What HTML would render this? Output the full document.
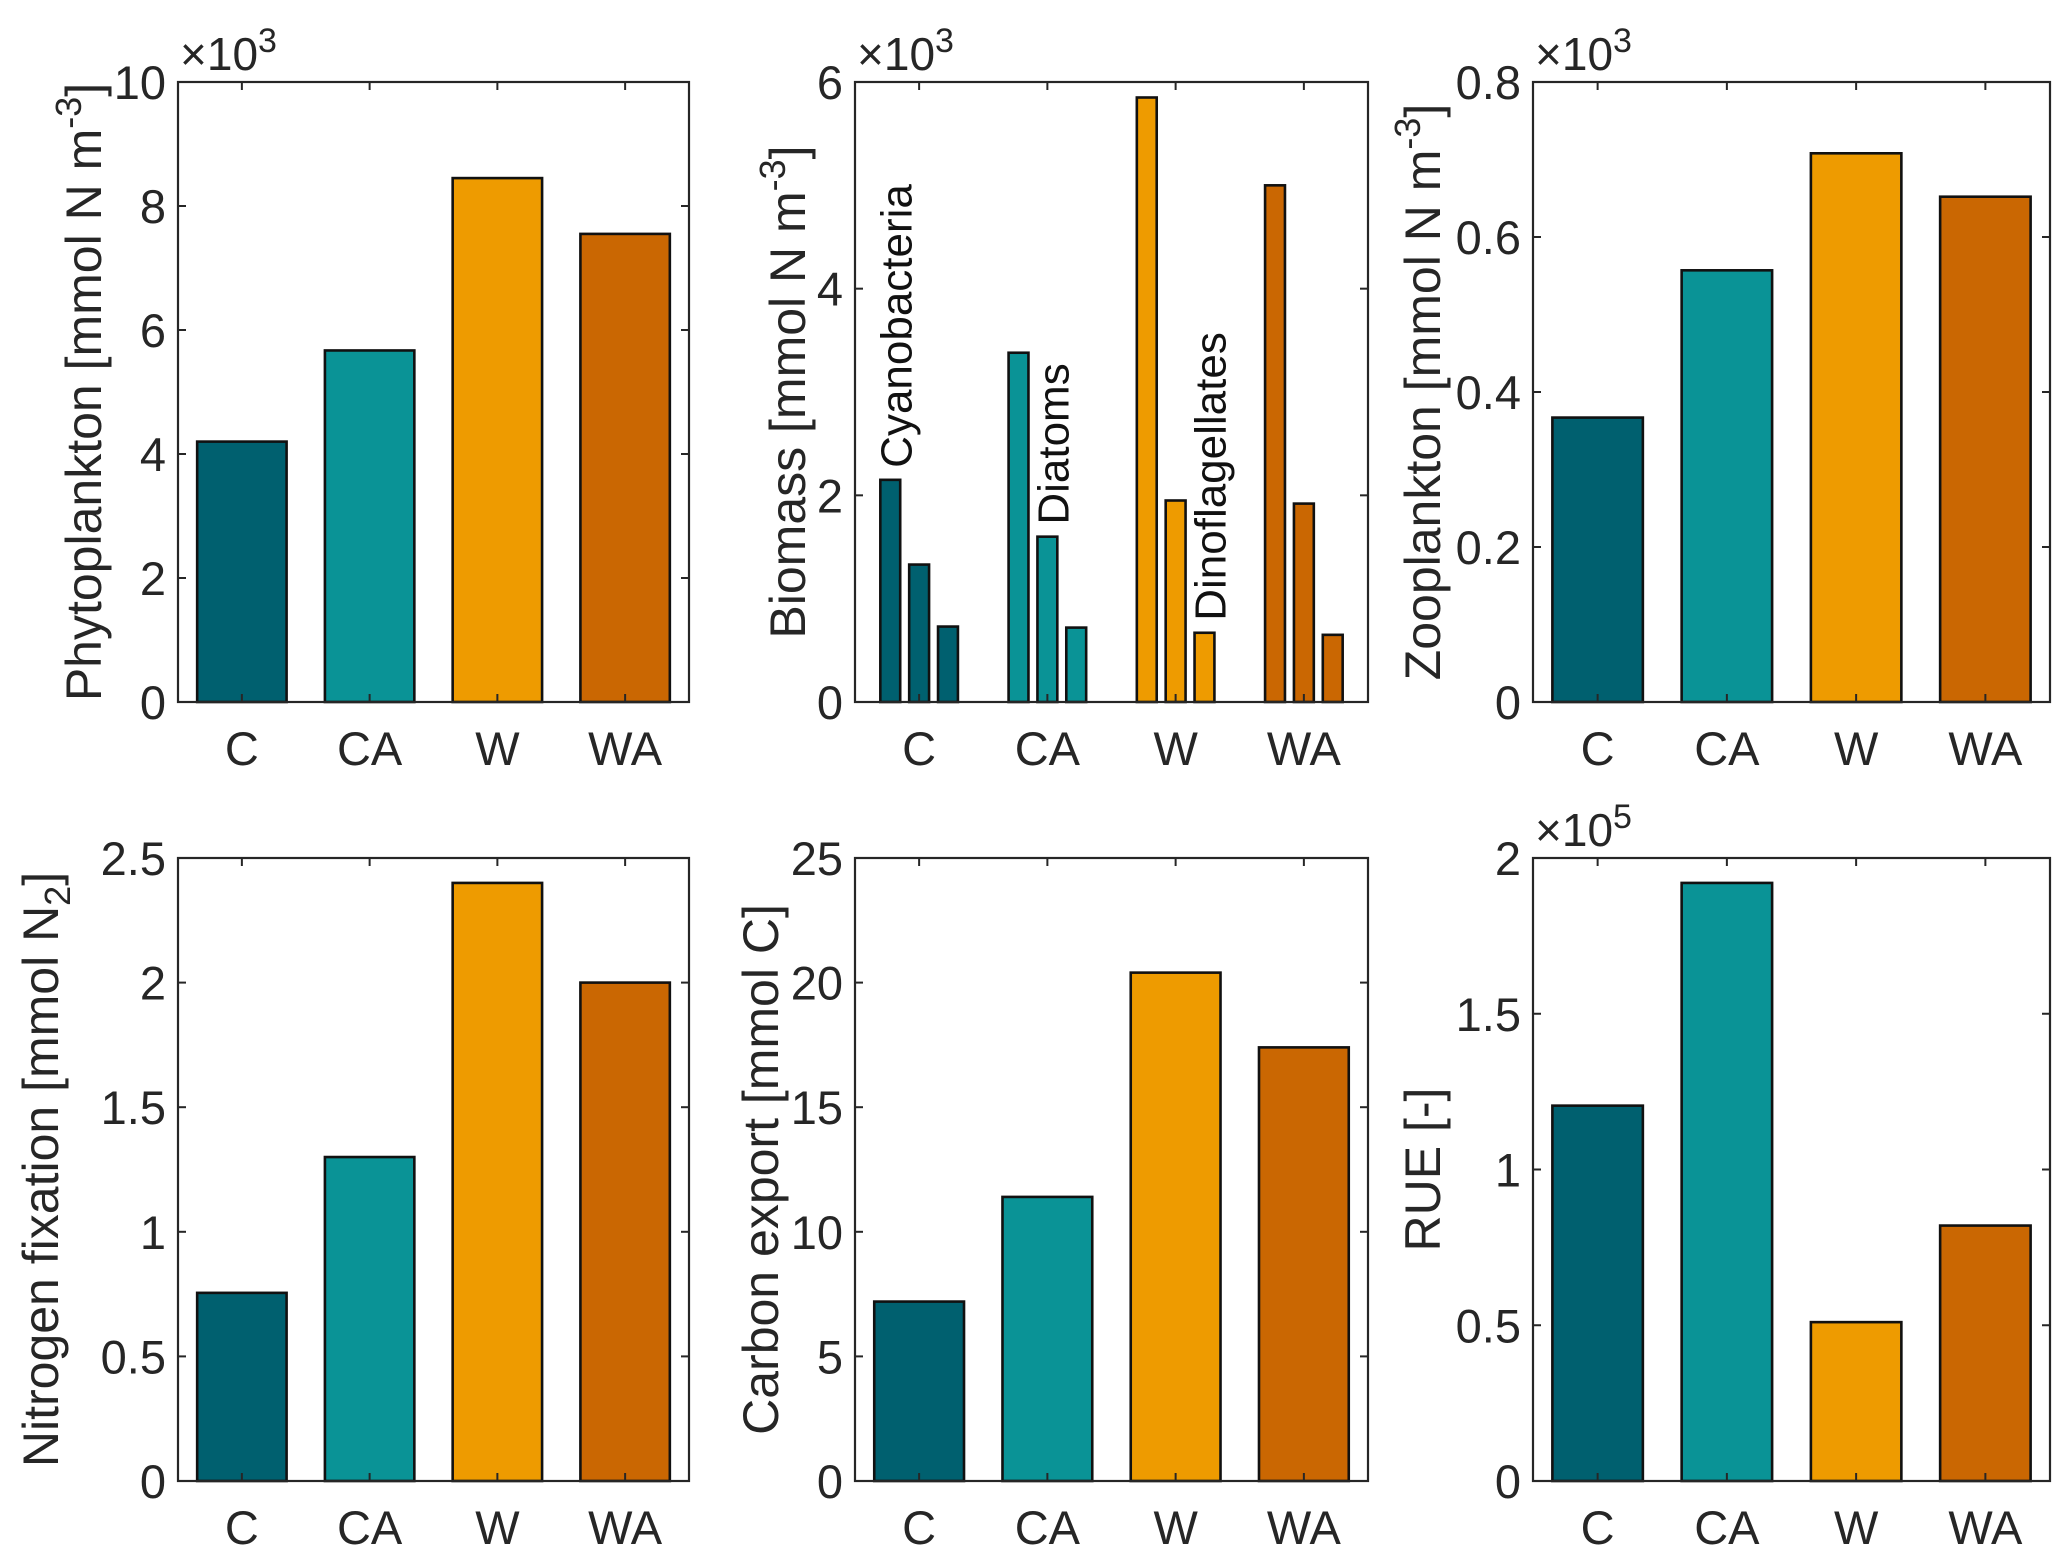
<!DOCTYPE html>
<html><head><meta charset="utf-8"><style>
body{margin:0;background:#fff}
svg{display:block;font-family:"Liberation Sans",Arial,sans-serif}
</style></head><body>
<svg id="fig" width="2067" height="1558" viewBox="0 0 2067 1558" xmlns="http://www.w3.org/2000/svg"></svg>
<script>
const categories = ["C","CA","W","WA"];
const colors = ["#00606f","#0a9396","#ee9b00","#ca6702"];
const phytoValues = [4.2, 5.67, 8.45, 7.55];
const phytoTicks = [0,2,4,6,8,10];
const cyanoValues = [2.15, 3.38, 5.85, 5.0];
const diatomValues = [1.33, 1.6, 1.95, 1.92];
const dinoValues = [0.73, 0.72, 0.67, 0.65];
const biomassTicks = [0,2,4,6];
const zooValues = [0.367, 0.557, 0.708, 0.652];
const zooTicks = [0,0.2,0.4,0.6,0.8];
const nfixValues = [0.755, 1.30, 2.40, 2.00];
const nfixTicks = [0,0.5,1,1.5,2,2.5];
const carbonValues = [7.2, 11.4, 20.4, 17.4];
const carbonTicks = [0,5,10,15,20,25];
const rueValues = [1.205, 1.92, 0.51, 0.82];
const rueTicks = [0,0.5,1,1.5,2];

const NS="http://www.w3.org/2000/svg";
const svg=document.getElementById('fig');
function mk(tag,attrs,parent){const e=document.createElementNS(NS,tag);for(const k in attrs)e.setAttribute(k,attrs[k]);(parent||svg).appendChild(e);return e;}

function panel(name,box,ticks,series,ylabelParts,ylabelX,expo,annots){
  const g=mk('g',{});
  
  
  const [L,R,T,B]=box;
  const ymax=ticks[ticks.length-1];
  const y=v=>B-(v/ymax)*(B-T);
  const x=i=>L+(i+0.5)/4*(R-L);
  const step=(R-L)/4;
  series.forEach((s,si)=>{
    s.values.forEach((v,i)=>{
      const cx=x(i)+s.offset*step;
      const w=s.width*step;
      const r=mk('rect',{x:cx-w/2,y:y(v),width:w,height:B-y(v),fill:colors[i],stroke:'#111',"stroke-width":2.6},g);
      
      
    });
  });
  const fr=mk('rect',{x:L,y:T,width:R-L,height:B-T,fill:'none',stroke:'#262626',"stroke-width":2.2},g);
  
  
  const tl=8;
  ticks.forEach(t=>{
    const yy=y(t);
    mk('line',{x1:L,y1:yy,x2:L+tl,y2:yy,stroke:'#262626',"stroke-width":2},g);
    mk('line',{x1:R,y1:yy,x2:R-tl,y2:yy,stroke:'#262626',"stroke-width":2},g);
    const tx=mk('text',{x:L-12,y:yy+17,"text-anchor":"end","font-size":47,fill:'#262626'},g);
    tx.textContent=String(t);
    
    
  });
  categories.forEach((c,i)=>{
    const xx=x(i);
    mk('line',{x1:xx,y1:B,x2:xx,y2:B-tl,stroke:'#262626',"stroke-width":2},g);
    mk('line',{x1:xx,y1:T,x2:xx,y2:T+tl,stroke:'#262626',"stroke-width":2},g);
    const tx=mk('text',{x:xx,y:B+63,"text-anchor":"middle","font-size":47,fill:'#262626'},g);
    tx.textContent=c;
    
    
  });
  if(expo){
    const ex=mk('text',{x:L+2,y:T-12,"font-size":46,fill:'#262626'},g);
    ex.innerHTML='×10<tspan dy="-18" font-size="34">'+expo+'</tspan>';
    
    
  }
  const cy=(T+B)/2;
  const yl=mk('text',{x:ylabelX,y:cy,"text-anchor":"middle","font-size":50,fill:'#262626',transform:`rotate(-90 ${ylabelX} ${cy})`},g);
  yl.innerHTML=ylabelParts;
  
  
  (annots||[]).forEach(a=>{
    const ax=L+(a.cat+0.5)/4*(R-L)+a.off*step+21;
    const ay=y(a.v)-12;
    const t=mk('text',{x:ax,y:ay,"font-size":44,fill:'#111',transform:`rotate(-90 ${ax} ${ay})`},g);
    t.textContent=a.text;
    
    
  });
}

const top1=82, bot1=702, top2=858, bot2=1481;
const single=v=>[{id:'total',values:v,offset:0,width:0.7}];
const sup='<tspan dy="-20" font-size="36">-3</tspan><tspan dy="20">]</tspan>';
panel('phytoplankton',[178,689,top1,bot1],phytoTicks,single(phytoValues),'Phytoplankton [mmol N m'+sup,101,'3');
panel('biomass',[855,1368,top1,bot1],biomassTicks,[
  {id:'cyanobacteria',values:cyanoValues,offset:-0.225,width:0.155},
  {id:'diatoms',values:diatomValues,offset:0,width:0.155},
  {id:'dinoflagellates',values:dinoValues,offset:0.225,width:0.155}],
  'Biomass [mmol N m'+sup,805,'3',
  [{cat:0,off:-0.225,v:cyanoValues[0],text:'Cyanobacteria'},
   {cat:1,off:0,v:diatomValues[1],text:'Diatoms'},
   {cat:2,off:0.225,v:dinoValues[2],text:'Dinoflagellates'}]);
panel('zooplankton',[1533,2050,top1,bot1],zooTicks,single(zooValues),'Zooplankton [mmol N m'+sup,1440,'3');
panel('nitrogen-fixation',[178,689,top2,bot2],nfixTicks,single(nfixValues),'Nitrogen fixation [mmol N<tspan dy="12" font-size="36">2</tspan><tspan dy="-12">]</tspan>',58,null);
panel('carbon-export',[855,1368,top2,bot2],carbonTicks,single(carbonValues),'Carbon export [mmol C]',778,null);
panel('rue',[1533,2050,top2,bot2],rueTicks,single(rueValues),'RUE [-]',1440,'5');
</script>
</body></html>
